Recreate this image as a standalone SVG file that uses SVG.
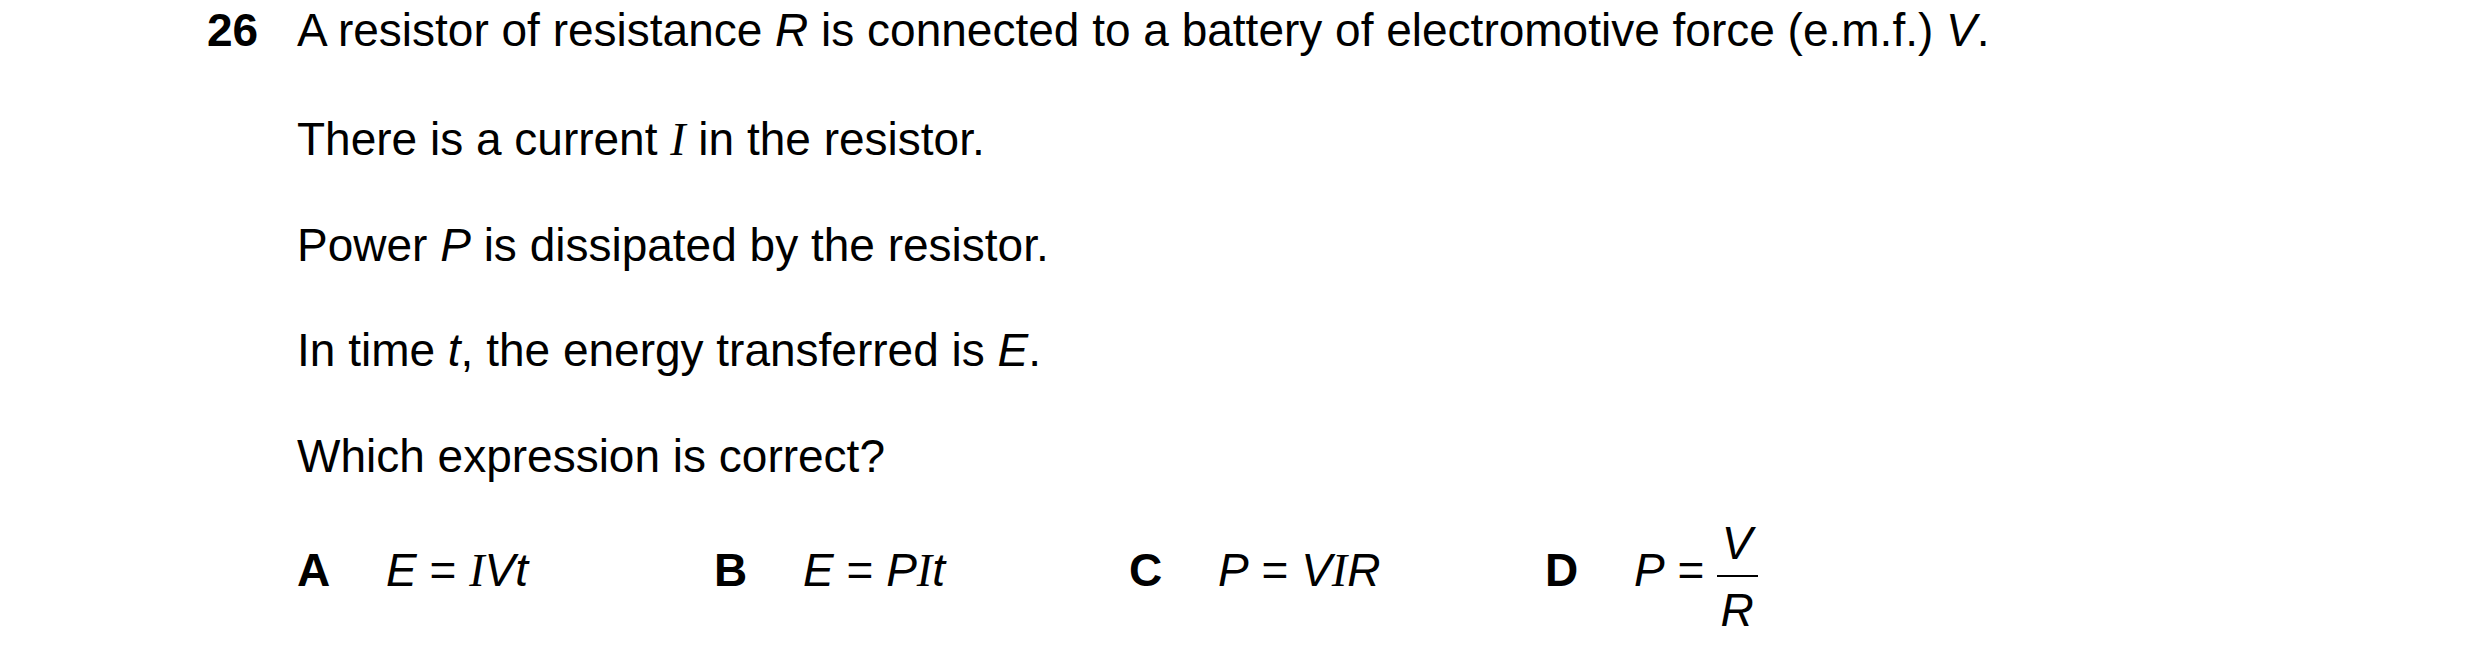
<svg xmlns="http://www.w3.org/2000/svg" width="2480" height="664" viewBox="0 0 2480 664">
<style>
text{font-family:"Liberation Sans",Arial,sans-serif;font-size:46px;fill:#000}
.b{font-weight:bold}
.i{font-style:italic}
.s{font-family:"Liberation Serif","Times New Roman",serif;font-style:italic}
</style>
<rect width="2480" height="664" fill="#fff"/>
<g id="question">
<text x="207" y="46" class="b">26</text>
<text x="297" y="46">A resistor of resistance <tspan class="i">R</tspan> is connected to a battery of electromotive force (e.m.f.) <tspan class="i">V</tspan>.</text>
<text x="297" y="155">There is a current <tspan class="s">I</tspan> in the resistor.</text>
<text x="297" y="261">Power <tspan class="i">P</tspan> is dissipated by the resistor.</text>
<text x="297" y="366">In time <tspan class="i">t</tspan>, the energy transferred is <tspan class="i">E</tspan>.</text>
<text x="297" y="472">Which expression is correct?</text>
</g>
<g id="options">
<text x="297" y="586" class="b">A</text>
<text x="386" y="586"><tspan class="i">E</tspan> = <tspan class="s">I</tspan><tspan class="i">Vt</tspan></text>
<text x="714" y="586" class="b">B</text>
<text x="803" y="586"><tspan class="i">E</tspan> = <tspan class="i">P</tspan><tspan class="s">I</tspan><tspan class="i">t</tspan></text>
<text x="1129" y="586" class="b">C</text>
<text x="1218" y="586"><tspan class="i">P</tspan> = <tspan class="i">V</tspan><tspan class="s">I</tspan><tspan class="i">R</tspan></text>
<text x="1545" y="586" class="b">D</text>
<text x="1634" y="586"><tspan class="i">P</tspan> =</text>
<text x="1737" y="559" class="i" text-anchor="middle">V</text>
<line x1="1717" y1="576" x2="1758" y2="576" stroke="#000" stroke-width="2"/>
<text x="1737" y="626" class="i" text-anchor="middle">R</text>
</g>
</svg>
